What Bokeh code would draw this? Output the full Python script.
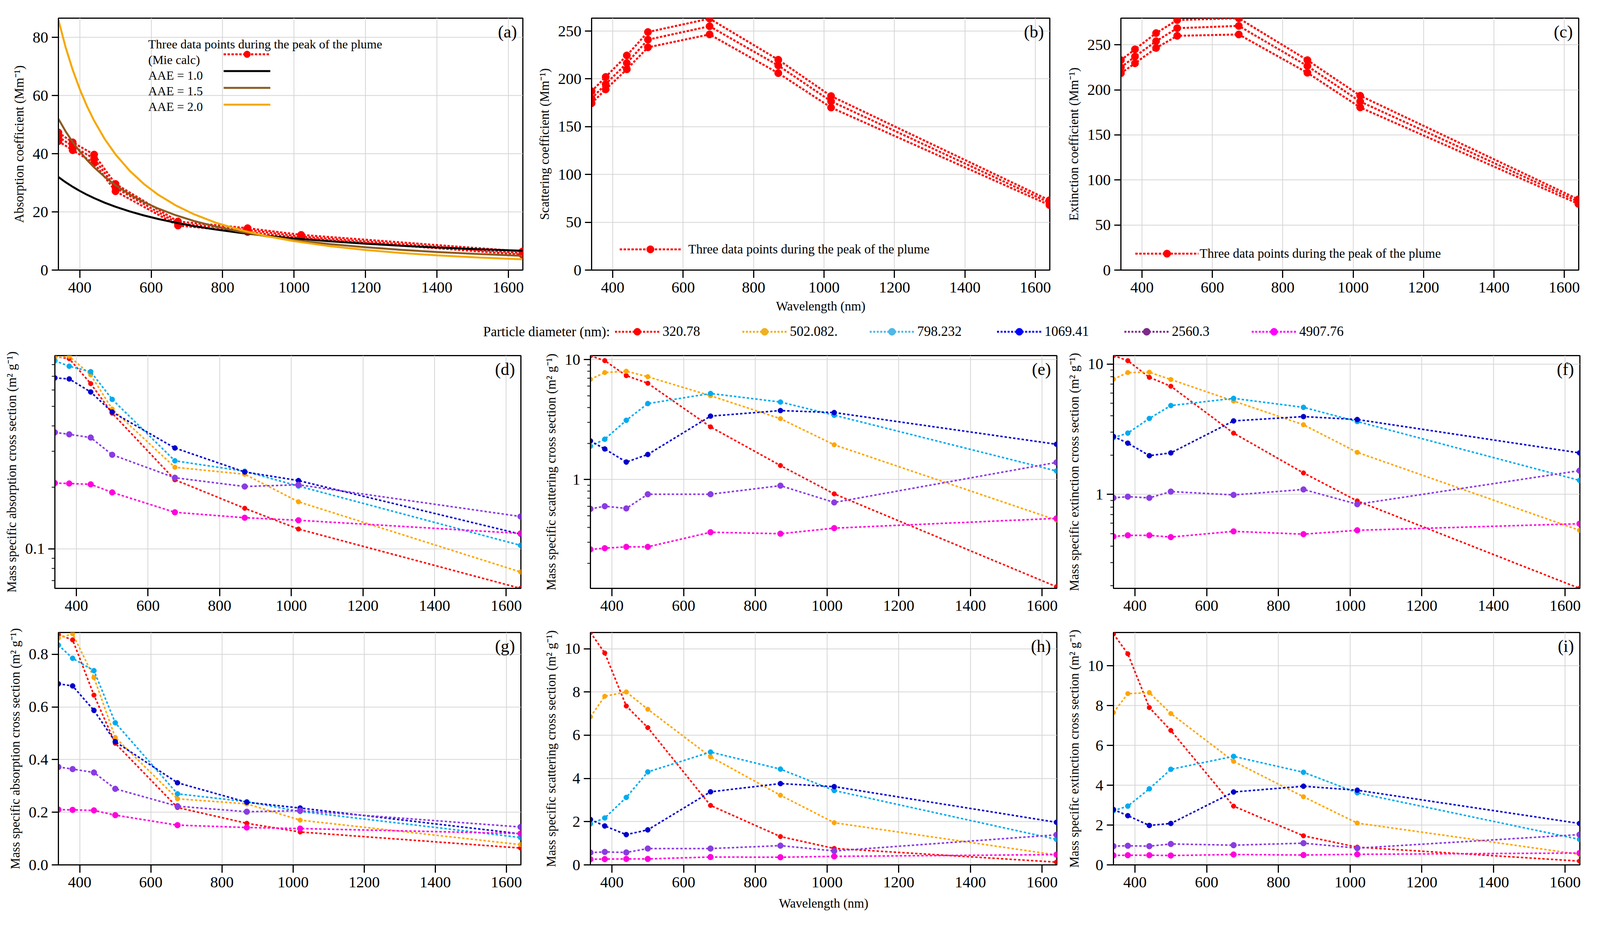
from bokeh.plotting import figure
from bokeh.layouts import column, row
from bokeh.models import (FixedTicker, Label, Legend, LegendItem, Range1d,
                          NumeralTickFormatter)
from bokeh.embed import file_html
from bokeh.resources import INLINE

FONT = "Liberation Serif"

# ---------------- data ----------------
wavelength = [340, 380, 440, 500, 675, 870, 1020, 1640]
x_ticks = [400, 600, 800, 1000, 1200, 1400, 1600]

# (a) absorption coefficient, three data points during the plume peak (Mm-1)
abs_peak_1 = [47.3, 43.9, 39.7, 29.6, 16.7, 14.4, 12.1, 6.4]
abs_peak_2 = [45.8, 42.6, 38.3, 28.3, 16.0, 13.8, 11.5, 5.8]
abs_peak_3 = [44.3, 41.2, 36.8, 27.1, 15.3, 13.1, 11.0, 5.3]

# (a) reference AAE curves
aae_wavelength = [340, 360, 380, 400, 420, 440, 470, 500, 540, 580, 620, 670, 720,
                  780, 850, 920, 1000, 1100, 1200, 1300, 1400, 1520, 1640]
aae_10 = [32.00, 30.22, 28.63, 27.20, 25.90, 24.73, 23.15, 21.76, 20.15, 18.76, 17.55,
          16.24, 15.11, 13.95, 12.80, 11.83, 10.88, 9.89, 9.07, 8.37, 7.77, 7.16, 6.63]
aae_15 = [52.00, 47.72, 44.01, 40.75, 37.87, 35.32, 32.00, 29.16, 25.98, 23.34, 21.12,
          18.80, 16.87, 14.97, 13.16, 11.68, 10.31, 8.94, 7.84, 6.95, 6.22, 5.50, 4.91]
aae_20 = [86.00, 76.71, 68.85, 62.14, 56.36, 51.35, 45.00, 39.77, 34.09, 29.55, 25.86,
          22.15, 19.18, 16.34, 13.76, 11.75, 9.94, 8.22, 6.90, 5.88, 5.07, 4.30, 3.70]
legend_a_labels = ["(Mie calc)", "AAE = 1.0", "AAE = 1.5", "AAE = 2.0"]

# (b) scattering coefficient (Mm-1)
sca_peak_1 = [187.0, 202.0, 224.5, 249.0, 263.0, 220.0, 182.0, 73.0]
sca_peak_2 = [179.5, 194.5, 216.5, 241.0, 255.0, 214.0, 176.5, 70.5]
sca_peak_3 = [174.5, 189.0, 210.0, 233.0, 246.5, 206.0, 170.0, 68.0]

# (c) extinction coefficient (Mm-1)
ext_peak_1 = [233.0, 245.0, 263.0, 277.5, 279.5, 233.0, 193.5, 78.5]
ext_peak_2 = [225.0, 237.0, 254.0, 268.5, 271.0, 226.5, 187.0, 76.0]
ext_peak_3 = [218.5, 229.5, 246.5, 260.0, 261.5, 219.0, 180.5, 73.5]

# particle diameters (nm)
diameter_labels = ["320.78", "502.082.", "798.232", "1069.41", "2560.3", "4907.76"]

# (d),(g) mass specific absorption cross section (m2 g-1)
mac_320 = [0.875, 0.855, 0.645, 0.462, 0.218, 0.158, 0.125, 0.064]
mac_502 = [0.862, 0.878, 0.712, 0.484, 0.251, 0.232, 0.170, 0.077]
mac_798 = [0.835, 0.785, 0.738, 0.540, 0.270, 0.240, 0.203, 0.104]
mac_1069 = [0.688, 0.680, 0.587, 0.468, 0.312, 0.238, 0.216, 0.118]
mac_2560 = [0.372, 0.364, 0.351, 0.289, 0.223, 0.202, 0.206, 0.144]
mac_4907 = [0.210, 0.209, 0.207, 0.189, 0.151, 0.142, 0.138, 0.119]

# (e),(h) mass specific scattering cross section (m2 g-1)
msc_320 = [10.75, 9.80, 7.35, 6.35, 2.75, 1.31, 0.76, 0.128]
msc_502 = [6.85, 7.80, 8.00, 7.20, 5.00, 3.22, 1.95, 0.46]
msc_798 = [1.90, 2.17, 3.12, 4.30, 5.22, 4.43, 3.44, 1.18]
msc_1069 = [2.10, 1.80, 1.40, 1.62, 3.38, 3.76, 3.62, 1.97]
msc_2560 = [0.57, 0.60, 0.575, 0.755, 0.755, 0.89, 0.645, 1.39]
msc_4907 = [0.262, 0.268, 0.275, 0.275, 0.364, 0.354, 0.394, 0.475]

# (f),(i) mass specific extinction cross section (m2 g-1)
mec_320 = [11.60, 10.60, 7.90, 6.75, 2.95, 1.46, 0.89, 0.19]
mec_502 = [7.65, 8.60, 8.65, 7.60, 5.20, 3.42, 2.10, 0.53]
mec_798 = [2.72, 2.95, 3.82, 4.80, 5.45, 4.65, 3.62, 1.28]
mec_1069 = [2.78, 2.47, 1.98, 2.08, 3.66, 3.95, 3.75, 2.08]
mec_2560 = [0.94, 0.96, 0.94, 1.05, 0.99, 1.09, 0.84, 1.52]
mec_4907 = [0.475, 0.485, 0.485, 0.470, 0.520, 0.495, 0.530, 0.595]

mac_all = [mac_320, mac_502, mac_798, mac_1069, mac_2560, mac_4907]
msc_all = [msc_320, msc_502, msc_798, msc_1069, msc_2560, msc_4907]
mec_all = [mec_320, mec_502, mec_798, mec_1069, mec_2560, mec_4907]

# ---------------- styles ----------------
series_colors = ["#ff0000", "#ffa500", "#00aaf0", "#0000cc", "#8a3be2", "#ff00dd"]
legend_colors = ["#ff0000", "#f0b020", "#4fb8e8", "#0000ff", "#7f2a8a", "#ff00ff"]
marker_sizes = [12, 12, 13, 13, 15, 15]

X_START, X_END = 340, 1641
TICK_FS = "40px"
LABEL_FS = "33px"


def panel(w, h, bl, br, bt, bb, y_rng, y_ticks, ylabel, letter, y_minor=None,
          log=False, fmt=None, xlabel=None, xlabel_standoff=15):
    p = figure(width=w, height=h, output_backend="svg", toolbar_location=None,
               x_range=Range1d(X_START, X_END), y_range=Range1d(*y_rng),
               y_axis_type="log" if log else "linear",
               min_border_left=bl, min_border_right=br,
               min_border_top=bt, min_border_bottom=bb)
    p.background_fill_color = "white"
    p.border_fill_color = "white"
    p.outline_line_color = "black"
    p.outline_line_width = 3
    p.outline_line_alpha = 1.0
    for ax in (p.xaxis[0], p.yaxis[0]):
        ax.axis_line_color = "black"
        ax.axis_line_width = 3
        ax.major_tick_line_color = "black"
        ax.major_tick_line_width = 3
        ax.major_tick_in = 0
        ax.minor_tick_in = 0
        ax.major_label_text_font = FONT
        ax.major_label_text_font_size = TICK_FS
        ax.major_label_text_color = "black"
        ax.major_label_standoff = 9
        ax.axis_label_text_font = FONT
        ax.axis_label_text_font_size = LABEL_FS
        ax.axis_label_text_font_style = "normal"
        ax.axis_label_text_color = "black"
    xa = p.xaxis[0]
    xa.ticker = FixedTicker(ticks=x_ticks, minor_ticks=[])
    xa.major_tick_out = 20
    xa.minor_tick_line_color = None
    xa.major_label_standoff = 11
    if xlabel:
        xa.axis_label = xlabel
        xa.axis_label_standoff = xlabel_standoff
    ya = p.yaxis[0]
    ya.ticker = FixedTicker(ticks=y_ticks, minor_ticks=y_minor or [])
    ya.major_tick_out = 17
    ya.minor_tick_out = 8
    ya.minor_tick_line_width = 2
    ya.minor_tick_line_color = "black" if y_minor else None
    ya.axis_label = ylabel
    ya.axis_label_standoff = 14
    if fmt:
        ya.formatter = NumeralTickFormatter(format=fmt)
    p.grid.grid_line_color = "#d5d5d5"
    p.grid.grid_line_width = 2
    p.add_layout(Label(x=X_END, y=y_rng[1], x_offset=-15, y_offset=-10,
                       text=letter, text_align="right", text_baseline="top",
                       text_font=FONT, text_font_size="44px", text_color="black"))
    return p


def red_peak(p, ys_list):
    first = None
    for ys in ys_list:
        lr = p.line(wavelength, ys, line_color="#ff0000", line_width=5, line_dash="6 4")
        sr = p.scatter(wavelength, ys, marker="circle", size=19,
                       fill_color="#ff0000", line_color="#ff0000")
        if first is None:
            first = [lr, sr]
    return first


def size_series(p, series):
    for ys, col, ms in zip(series, series_colors, marker_sizes):
        p.line(wavelength, ys, line_color=col, line_width=4, line_dash="6 5")
        p.scatter(wavelength, ys, marker="circle", size=ms, fill_color=col, line_color=col)


def style_legend(leg, size="33px"):
    leg.label_text_font = FONT
    leg.label_text_font_size = size
    leg.label_text_color = "black"
    leg.border_line_color = None
    leg.background_fill_alpha = 0
    leg.padding = 0
    leg.margin = 0
    leg.spacing = 0


def text_label(p, x, y, dx, dy, text, size="32px", align="left"):
    p.add_layout(Label(x=x, y=y, x_offset=dx, y_offset=dy, text=text,
                       text_align=align, text_baseline="middle", text_font=FONT,
                       text_font_size=size, text_color="black"))


ROW1_H, LEG_H, ROW2_H, ROW3_H = 820, 58, 704, 773
C1, C2, C3 = 1372, 1355, 1345

# ---------------- (a) ----------------
A_TOP = 86.6
pa = panel(C1, ROW1_H, 149, 34, 46, 129, (0, A_TOP), [0, 20, 40, 60, 80],
           "Absorption coefficient (Mm\u207b\u00b9)", "(a)")
mie_r = red_peak(pa, [abs_peak_1, abs_peak_2, abs_peak_3])
r10 = pa.line(aae_wavelength, aae_10, line_color="black", line_width=5)
r15 = pa.line(aae_wavelength, aae_15, line_color="#8b5a1e", line_width=5)
r20 = pa.line(aae_wavelength, aae_20, line_color="#f5a800", line_width=5)
# legend: texts on the left, glyph samples on the right (as in the original)
leg_a = Legend(items=[LegendItem(label=" ", renderers=mie_r),
                      LegendItem(label=" ", renderers=[r10]),
                      LegendItem(label=" ", renderers=[r15]),
                      LegendItem(label=" ", renderers=[r20])],
               location=(423, 402), glyph_width=120, glyph_height=43,
               label_height=43, label_width=1, label_standoff=0)
style_legend(leg_a)
pa.add_layout(leg_a)
text_label(pa, X_START, A_TOP, 230, -66, "Three data points during the peak of the plume")
for lab, dy in zip(legend_a_labels, [-106, -146, -186, -226]):
    text_label(pa, X_START, A_TOP, 230, dy, lab)

# ---------------- (b) ----------------
pb = panel(C2, ROW1_H, 141, 40, 46, 129, (0, 263.5), [0, 50, 100, 150, 200, 250],
           "Scattering coefficient (Mm\u207b\u00b9)", "(b)",
           xlabel="Wavelength (nm)", xlabel_standoff=14)
b_r = red_peak(pb, [sca_peak_1, sca_peak_2, sca_peak_3])
leg_b = Legend(items=[LegendItem(label="Three data points during the peak of the plume",
                                 renderers=b_r)],
               location=(72, 29), glyph_width=157, glyph_height=48, label_standoff=19)
style_legend(leg_b)
pb.add_layout(leg_b)

# ---------------- (c) ----------------
pc = panel(C3, ROW1_H, 142, 31, 46, 129, (0, 279.6), [0, 50, 100, 150, 200, 250],
           "Extinction coefficient (Mm\u207b\u00b9)", "(c)")
c_r = red_peak(pc, [ext_peak_1, ext_peak_2, ext_peak_3])
leg_c = Legend(items=[LegendItem(label="Three data points during the peak of the plume",
                                 renderers=c_r)],
               location=(37, 18), glyph_width=162, glyph_height=48, label_standoff=3)
style_legend(leg_c)
pc.add_layout(leg_c)

# ---------------- legend row (shared by d-i) ----------------
leg_fig = figure(width=C1 + C2 + C3, height=LEG_H, output_backend="svg",
                 toolbar_location=None, x_range=Range1d(0, 1), y_range=Range1d(0, 1),
                 x_axis_location=None, y_axis_location=None, min_border=0)
leg_fig.grid.visible = False
leg_fig.outline_line_color = None
leg_fig.background_fill_color = "white"
leg_fig.border_fill_color = "white"
items = []
for name, col, ys in zip(diameter_labels, legend_colors, mac_all):
    # renderers only provide legend glyphs; their data lie outside this strip's range
    lr = leg_fig.line(wavelength, ys, line_color=col, line_width=5, line_dash="5 4")
    sr = leg_fig.scatter(wavelength, ys, marker="circle", size=18, fill_color=col, line_color=col)
    items.append(LegendItem(label=name, renderers=[lr, sr]))
leg_row = Legend(items=items, orientation="horizontal", location=(1574, 6),
                 glyph_width=114, glyph_height=46, label_standoff=8, label_width=194)
style_legend(leg_row, "35px")
leg_row.spacing = 10
leg_fig.add_layout(leg_row)
leg_fig.add_layout(Label(x=1561, y=29, x_units="screen", y_units="screen",
                         text="Particle diameter (nm):", text_align="right",
                         text_baseline="middle", text_font=FONT,
                         text_font_size="35px", text_color="black"))

# ---------------- (d) (e) (f) log panels ----------------
minor_sub = [0.07, 0.08, 0.09, 0.2, 0.3, 0.4, 0.5, 0.6, 0.7, 0.8]
minor_e = [0.2, 0.3, 0.4, 0.5, 0.6, 0.7, 0.8, 0.9, 2, 3, 4, 5, 6, 7, 8, 9]

pd_ = panel(C1, ROW2_H, 140, 39, 32, 76, (0.064, 0.885), [0.1],
            "Mass specific absorption cross section (m\u00b2 g\u207b\u00b9)", "(d)",
            y_minor=minor_sub, log=True, fmt="0.0")
size_series(pd_, mac_all)

pe = panel(C2, ROW2_H, 139, 22, 32, 76, (0.124, 10.8), [1, 10],
           "Mass specific scattering cross section (m\u00b2 g\u207b\u00b9)", "(e)",
           y_minor=minor_e, log=True, fmt="0")
size_series(pe, msc_all)

pf = panel(C3, ROW2_H, 123, 28, 32, 76, (0.19, 11.6), [1, 10],
           "Mass specific extinction cross section (m\u00b2 g\u207b\u00b9)", "(f)",
           y_minor=minor_e, log=True, fmt="0")
size_series(pf, mec_all)

# ---------------- (g) (h) (i) linear panels ----------------
pg = panel(C1, ROW3_H, 149, 39, 37, 141, (0, 0.883), [0, 0.2, 0.4, 0.6, 0.8],
           "Mass specific absorption cross section (m\u00b2 g\u207b\u00b9)", "(g)", fmt="0.0")
size_series(pg, mac_all)

ph = panel(C2, ROW3_H, 139, 22, 37, 141, (0, 10.75), [0, 2, 4, 6, 8, 10],
           "Mass specific scattering cross section (m\u00b2 g\u207b\u00b9)", "(h)",
           xlabel="Wavelength (nm)", xlabel_standoff=20)
size_series(ph, msc_all)

pi = panel(C3, ROW3_H, 123, 28, 37, 141, (0, 11.67), [0, 2, 4, 6, 8, 10],
           "Mass specific extinction cross section (m\u00b2 g\u207b\u00b9)", "(i)")
size_series(pi, mec_all)

layout = column(row(pa, pb, pc), leg_fig, row(pd_, pe, pf), row(pg, ph, pi))

open("out.html", "w").write(file_html(layout, INLINE))
